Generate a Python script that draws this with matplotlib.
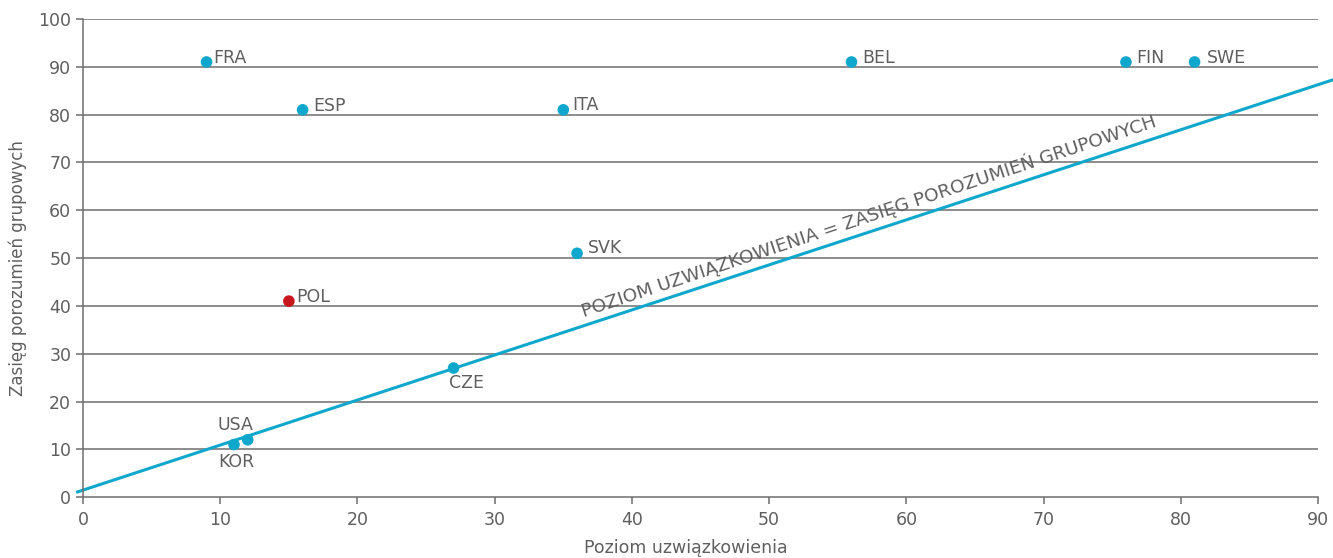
import matplotlib
matplotlib.use("Agg")
import matplotlib.pyplot as plt

countries = ["FRA", "ESP", "ITA", "BEL", "FIN", "SWE", "SVK", "POL", "CZE", "USA", "KOR"]
union_density = [9, 16, 35, 56, 76, 81, 36, 15, 27, 12, 11]
bargaining_coverage = [91, 81, 81, 91, 91, 91, 51, 41, 27, 12, 11]
highlight = "POL"

line_x = [-0.4, 91.0]
line_y = [1.1, 87.2]
line_label = "POZIOM UZWIĄZKOWIENIA = ZASIĘG POROZUMIEŃ GRUPOWYCH"

x_ticks = [0, 10, 20, 30, 40, 50, 60, 70, 80, 90]
y_ticks = [0, 10, 20, 30, 40, 50, 60, 70, 80, 90, 100]
x_label = "Poziom uzwiązkowienia"
y_label = "Zasięg porozumień grupowych"

# label offsets in pixels (dx, dy), alignment
px = 72 / 100
label_style = {
    "FRA": (7, 4, "left"), "ESP": (11, 4, "left"), "ITA": (9, 5, "left"),
    "BEL": (11, 4, "left"), "FIN": (10, 4, "left"), "SWE": (12, 4, "left"),
    "SVK": (11, 5, "left"), "POL": (7, 4, "left"), "CZE": (13, -15, "center"),
    "USA": (-12, 15, "center"), "KOR": (2, -17, "center"),
}

plt.rcParams['font.family'] = ['DejaVu Sans']
grey = "#5f5f5f"
cyan = "#0fa7cc"
red = "#c8161d"

fig = plt.figure(figsize=(13.33, 5.58), dpi=100)
ax = fig.add_axes([0.0623, 0.109, 0.9265, 0.857])
ax.set_xlim(0, 90)
ax.set_ylim(0, 100)

for y in y_ticks[1:]:
    ax.axhline(y, color="#6e6e6e", lw=1.1, zorder=1)

ax.plot(line_x, line_y, color=cyan, lw=2.2, clip_on=False, zorder=2)

colors = [red if c == highlight else cyan for c in countries]
ax.scatter(union_density, bargaining_coverage, s=70, c=colors, zorder=3, clip_on=False, linewidths=0)

for c, x, y in zip(countries, union_density, bargaining_coverage):
    dx, dy, ha = label_style[c]
    ax.annotate(c, (x, y), xytext=(dx * px, dy * px), textcoords="offset points",
                ha=ha, va="center", fontsize=12.5, color=grey)

ax.text(36.5, 37.6, line_label, rotation=18.4, rotation_mode="anchor",
        ha="left", va="baseline", fontsize=13.3, color=grey, transform=ax.transData)

for s in ["top", "right"]:
    ax.spines[s].set_visible(False)
for s in ["left", "bottom"]:
    ax.spines[s].set_color("#6e6e6e")
    ax.spines[s].set_linewidth(1.1)

ax.set_xticks(x_ticks)
ax.set_yticks(y_ticks)
ax.tick_params(axis="both", colors="#6e6e6e", labelcolor=grey, labelsize=12.5, length=5, width=1.1)
ax.tick_params(axis="x", pad=5)

fig.text(686 / 1333, 1 - 548 / 558, x_label, fontsize=12.5, color=grey, ha="center", va="center")
fig.text(18 / 1333, 1 - 268 / 558, y_label, fontsize=12, color=grey, ha="center", va="center", rotation=90)

fig.savefig("out.png", dpi=100)
